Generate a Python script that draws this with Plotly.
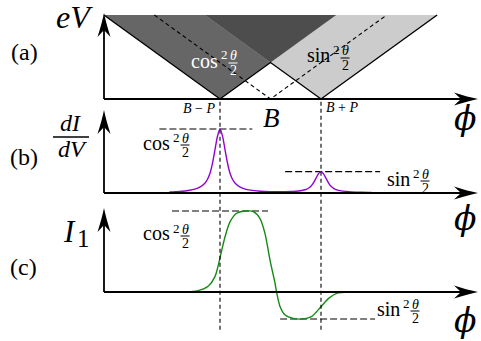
import plotly.graph_objects as go

# ---------------------------------------------------------------- data
# positions of the two resonances on the phi axis
PHI_B_MINUS_P = -1.0
PHI_B_PLUS_P = 1.0
# spin weights
COS2 = 0.75
SIN2 = 0.25
# height of the eV fans in panel (a)
EV_TOP = 2.3

# panel (b): differential conductance
PHI_B = [-2.0, -1.8, -1.6, -1.5, -1.4, -1.3, -1.25, -1.2, -1.15, -1.1, -1.05, -1.0,
         -0.95, -0.9, -0.85, -0.8, -0.75, -0.7, -0.6, -0.5, -0.4, -0.2, 0.0, 0.2,
         0.4, 0.5, 0.6, 0.7, 0.75, 0.8, 0.85, 0.9, 0.95, 1.0, 1.05, 1.1, 1.15, 1.2,
         1.25, 1.3, 1.4, 1.5, 1.6, 1.8, 2.0]
DIDV = [0.012, 0.018, 0.032, 0.045, 0.068, 0.115, 0.158, 0.228, 0.345, 0.505, 0.665, 0.751,
        0.666, 0.506, 0.346, 0.229, 0.158, 0.115, 0.069, 0.046, 0.034, 0.021, 0.015, 0.014,
        0.017, 0.020, 0.027, 0.041, 0.056, 0.079, 0.118, 0.172, 0.226, 0.254, 0.225, 0.171,
        0.117, 0.078, 0.055, 0.040, 0.025, 0.018, 0.013, 0.008, 0.006]

# panel (c): spin current
PHI_C = [-2.0, -1.6, -1.43, -1.23, -1.10, -0.98, -0.90, -0.80, -0.67, -0.47, -0.34, -0.21,
         -0.11, -0.01, 0.09, 0.12, 0.19, 0.29, 0.45, 0.62, 0.81, 1.0, 1.15, 1.31, 1.61, 2.01]
I1 = [0.0, 0.003, 0.012, 0.056, 0.142, 0.358, 0.512, 0.651, 0.729, 0.75, 0.745, 0.682,
      0.543, 0.296, 0.080, 0.0, -0.136, -0.213, -0.244, -0.25, -0.228, -0.136, -0.059,
      -0.012, 0.0, 0.0]

# dashed guide spans (phi_start, phi_end, level)
GUIDES_B = [(-2.2, -0.36, COS2), (0.29, 2.17, SIN2)]
GUIDES_C = [(-1.95, -0.05, COS2), (0.19, 2.07, -SIN2)]

# ---------------------------------------------------------------- geometry
W, H = 481, 341
PX_PER_PHI = 50.5
X_RANGE = [-270.5 / PX_PER_PHI, (W - 270.5) / PX_PER_PHI]
PHI_ORIGIN = (104 - 270.5) / PX_PER_PHI     # where the vertical axes sit
PHI_TIP = (478 - 270.5) / PX_PER_PHI        # tip of the horizontal arrows

# per panel: baseline pixel row, pixels per unit, pixel rows of domain bottom/top, arrow tip row
PANELS = {
    "a": dict(base=99, ppu=36.5, bot=103, top=0, tip=13),
    "b": dict(base=193, ppu=85.33, bot=200, top=103, tip=110),
    "c": dict(base=292, ppu=108.0, bot=341, top=200, tip=208),
}
YREF = {"a": "y", "b": "y2", "c": "y3"}

SERIF = "Liberation Serif"
GREEK = "DejaVu Serif"
PURPLE = "#9400d3"
GREEN = "#138a13"


def px_of(phi):
    return (phi - X_RANGE[0]) * PX_PER_PHI


def py_of(panel, v):
    p = PANELS[panel]
    return p["base"] - v * p["ppu"]


def paper(px, py):
    return px / W, 1 - py / H


def axis_cfg(panel):
    p = PANELS[panel]
    return dict(domain=[1 - p["bot"] / H, 1 - p["top"] / H],
                range=[-(p["bot"] - p["base"]) / p["ppu"], (p["base"] - p["top"]) / p["ppu"]],
                visible=False, anchor="x", fixedrange=True)


fig = go.Figure()


def line(x, y, panel, color="black", width=1.5, dash="solid", shape="linear", fill=None,
         fillcolor=None):
    fig.add_trace(go.Scatter(
        x=x, y=y, mode="lines", yaxis=YREF[panel], hoverinfo="skip",
        line=dict(color=color, width=width if width else 0, dash=dash, shape=shape,
                  smoothing=0.8 if shape == "spline" else None),
        fill=fill, fillcolor=fillcolor))


# ---------------------------------------------------------------- panel (a): eV fans
cross_phi = (PHI_B_MINUS_P + PHI_B_PLUS_P) / 2
cross_ev = (PHI_B_PLUS_P - PHI_B_MINUS_P) / 2
mid_phi = cross_phi

# cos^2 fan opening from B-P
line([PHI_B_MINUS_P, PHI_B_MINUS_P - EV_TOP, PHI_B_MINUS_P + EV_TOP, PHI_B_MINUS_P],
     [0, EV_TOP, EV_TOP, 0], "a", width=0, fill="toself", fillcolor="#666666")
# sin^2 fan opening from B+P
line([PHI_B_PLUS_P, PHI_B_PLUS_P - EV_TOP, PHI_B_PLUS_P + EV_TOP, PHI_B_PLUS_P],
     [0, EV_TOP, EV_TOP, 0], "a", width=0, fill="toself", fillcolor="#cccccc")
# overlap of both fans
line([cross_phi, PHI_B_PLUS_P - EV_TOP, PHI_B_MINUS_P + EV_TOP, cross_phi],
     [cross_ev, EV_TOP, EV_TOP, cross_ev], "a", width=0, fill="toself", fillcolor="#4d4d4d")
# fan edges
line([PHI_B_MINUS_P - EV_TOP, PHI_B_MINUS_P, cross_phi, PHI_B_PLUS_P, PHI_B_PLUS_P + EV_TOP],
     [EV_TOP, 0, cross_ev, 0, EV_TOP], "a", width=1.4)
# dashed fan from the midpoint
line([mid_phi - EV_TOP, mid_phi, mid_phi + EV_TOP], [EV_TOP, 0, EV_TOP], "a",
     width=1.1, dash="4px,3px")

# ---------------------------------------------------------------- panel (b)
for x0, x1, lvl in GUIDES_B:
    line([x0, x1], [lvl, lvl], "b", width=1.1, dash="7px,3px")
line(PHI_B, DIDV, "b", color=PURPLE, width=1.4, shape="spline")

# ---------------------------------------------------------------- panel (c)
for x0, x1, lvl in GUIDES_C:
    line([x0, x1], [lvl, lvl], "c", width=1.1, dash="7px,3px")
line(PHI_C, I1, "c", color=GREEN, width=1.4, shape="spline")

# ---------------------------------------------------------------- axes with arrows
shapes = []


def arrow_head(tx, ty, direction):
    """Stealth-style filled arrow head at pixel tip (tx, ty)."""
    L, Wd, N = 24, 6.5, 17
    if direction == "right":
        pts = [(tx, ty), (tx - 10, ty - 2), (tx - L, ty - Wd), (tx - N, ty),
               (tx - L, ty + Wd), (tx - 10, ty + 2)]
    else:
        pts = [(tx, ty), (tx - 2, ty + 10), (tx - Wd, ty + L), (tx, ty + N),
               (tx + Wd, ty + L), (tx + 2, ty + 10)]
    p = [paper(*q) for q in pts]
    path = (f"M {p[0][0]},{p[0][1]} Q {p[1][0]},{p[1][1]} {p[2][0]},{p[2][1]} "
            f"L {p[3][0]},{p[3][1]} L {p[4][0]},{p[4][1]} "
            f"Q {p[5][0]},{p[5][1]} {p[0][0]},{p[0][1]} Z")
    shapes.append(dict(type="path", path=path, xref="paper", yref="paper",
                       fillcolor="black", line=dict(width=0)))


for key, p in PANELS.items():
    top_val = (p["base"] - p["tip"] - 10) / p["ppu"]
    line([PHI_ORIGIN, PHI_TIP - 0.3], [0, 0], key, width=1.8)
    line([PHI_ORIGIN, PHI_ORIGIN], [0, top_val], key, width=1.8)
    arrow_head(px_of(PHI_TIP), p["base"], "right")
    arrow_head(px_of(PHI_ORIGIN), p["tip"], "up")

# vertical dashed markers through all panels
for phi in (PHI_B_MINUS_P, PHI_B_PLUS_P):
    _, y_top = paper(0, py_of("a", 0))
    _, y_bot = paper(0, py_of("c", -0.35))
    shapes.append(dict(type="line", xref="x", yref="paper", x0=phi, x1=phi, y0=y_bot, y1=y_top,
                       line=dict(color="black", width=1.1, dash="4px,3px")))

# fraction bar of dI/dV
bx0, by = paper(53, 137)
bx1, _ = paper(89, 137)
shapes.append(dict(type="line", xref="paper", yref="paper", x0=bx0, x1=bx1, y0=by, y1=by,
                   line=dict(color="black", width=1.3)))

# ---------------------------------------------------------------- text
annotations = []


def text(t, px, py, size, color="black", xanchor="center", family=SERIF):
    x, y = paper(px, py)
    annotations.append(dict(text=t, x=x, y=y, xref="paper", yref="paper", showarrow=False,
                            xanchor=xanchor, yanchor="middle",
                            font=dict(family=family, size=size, color=color)))


def weight_label(name, xf, baseline, color="black"):
    """name^2 (theta/2) built from pieces around the fraction centre xf."""
    text(name, xf - 13, baseline - 6.5, 20, color, xanchor="right")
    text("2", xf - 9, baseline - 12, 13, color)
    bar_y = baseline - 4
    text("<i>θ</i>", xf, bar_y - 7, 14, color)
    text("2", xf, bar_y + 7.5, 14, color)
    x0, y = paper(xf - 4.5, bar_y)
    x1, _ = paper(xf + 4.5, bar_y)
    shapes.append(dict(type="line", xref="paper", yref="paper", x0=x0, x1=x1, y0=y, y1=y,
                       line=dict(color=color, width=1)))


text("<i>eV</i>", 74, 17, 32)
text("(a)", 24, 52, 24)
text("(b)", 24, 157, 24)
text("(c)", 23, 267, 24)
text("<i>dI</i>", 70, 123, 24)
text("<i>dV</i>", 72, 149, 24)
text("<i>I</i>", 69, 232, 31)
text("1", 83, 238, 25)
text("<i>B</i>", 271, 118, 27)
text("<i>B</i> − <i>P</i>", 199, 109, 14)
text("<i>B</i> + <i>P</i>", 342, 108, 14)
for py in (118, 218, 320):
    text("<i>ϕ</i>", 465, py, 33, family=GREEK)

weight_label("cos", 233, 67, "white")
weight_label("sin", 345, 62)
weight_label("cos", 185, 149)
weight_label("sin", 425, 185)
weight_label("cos", 185, 240)
weight_label("sin", 415, 315)

fig.update_layout(
    width=W, height=H, margin=dict(l=0, r=0, t=0, b=0),
    paper_bgcolor="white", plot_bgcolor="white", showlegend=False,
    font=dict(family=SERIF),
    xaxis=dict(range=X_RANGE, visible=False, fixedrange=True, domain=[0, 1]),
    yaxis=axis_cfg("a"), yaxis2=axis_cfg("b"), yaxis3=axis_cfg("c"),
    shapes=shapes, annotations=annotations,
)

fig.write_html("out.html")
